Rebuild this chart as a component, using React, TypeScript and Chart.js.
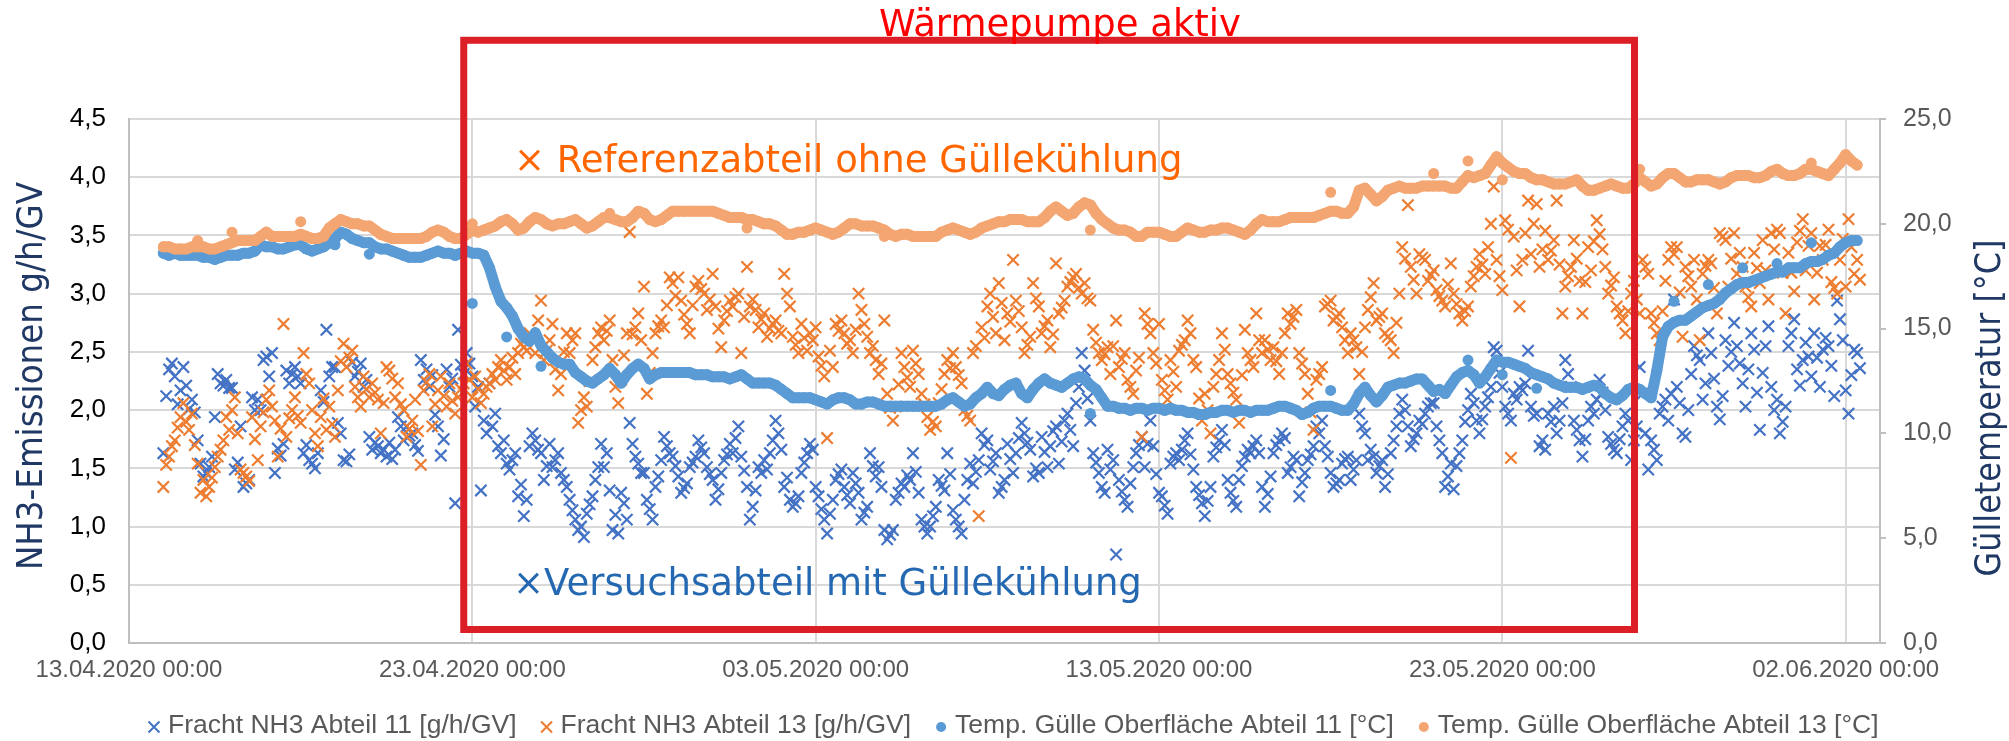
import React, { useEffect, useRef } from 'react';
import { Chart, registerables } from 'chart.js';

Chart.register(...registerables);

// ---- axes (x in days since 13.04.2020 00:00) ----
const xAxisMinDay = 0;
const xAxisMaxDay = 51;
const xTickDays = [0, 10, 20, 30, 40, 50];
const xTickLabels = [
  '13.04.2020 00:00',
  '23.04.2020 00:00',
  '03.05.2020 00:00',
  '13.05.2020 00:00',
  '23.05.2020 00:00',
  '02.06.2020 00:00',
];
const leftAxisMax = 4.5;
const leftAxisStep = 0.5;
const rightAxisMax = 25;
const rightAxisStep = 5;

const seriesLabels = [
  'Fracht NH3 Abteil 11 [g/h/GV]',
  'Fracht NH3 Abteil 13 [g/h/GV]',
  'Temp. Gülle Oberfläche Abteil 11 [°C]',
  'Temp. Gülle Oberfläche Abteil 13 [°C]',
];
const seriesColors = ['#4472C4', '#ED7D31', '#5B9BD5', '#F4A672'];

// ---- NH3 load, one value every 2 h starting 14.04.2020 00:00 ----
const nh3StartDay = 1;
const nh3StepHours = 2;
const nh3Abteil11 = [
  1.63, 2.12, 2.35, 2.40, 2.29, 2.05, 2.17, 2.37, 2.21, 2.01, 2.09, 1.98,
  1.74, 1.54, 1.43, 1.46, 1.51, 1.60, 1.94, 2.31, 2.23, 2.21, 2.26, 2.19,
  2.19, 1.49, 1.55, 1.86, 1.34, 1.37, 1.40, 2.11, 2.00, 2.09, 2.00, 2.43,
  2.46, 2.29, 2.49, 1.46, 1.67, 1.61, 1.71, 2.34, 2.23, 2.31, 2.37, 2.29,
  2.23, 1.63, 1.70, 1.57, 1.54, 1.50, 1.63, 2.17, 2.07, 2.69, 2.29, 2.37,
  2.37, 1.89, 1.80, 1.57, 1.56, 1.62, 2.41, 2.29, 2.33, 2.40, 2.20, 2.26,
  1.77, 1.66, 1.72, 1.69, 1.63, 1.66, 1.60, 1.72, 1.58, 1.66, 1.94, 1.86,
  1.74, 1.86, 1.78, 1.80, 1.70, 1.65, 2.43, 2.26, 2.35, 2.20, 2.30, 1.96,
  1.86, 1.61, 1.75, 2.35, 2.20, 2.27, 1.20, 2.69, 2.39, 2.31, 2.49, 2.40,
  2.29, 2.03, 2.20, 1.31, 1.91, 1.80, 2.23, 1.86, 1.97, 1.69, 1.63, 1.74,
  1.54, 1.49, 1.57, 1.63, 1.26, 1.36, 1.09, 1.23, 1.69, 1.80, 1.74, 1.66,
  1.63, 1.40, 1.52, 1.71, 1.51, 1.57, 1.63, 1.46, 1.40, 1.34, 1.23, 1.14,
  1.06, 0.97, 1.00, 0.91, 1.11, 1.19, 1.26, 1.40, 1.51, 1.71, 1.51, 1.63,
  1.31, 0.97, 1.10, 0.94, 1.29, 1.20, 1.06, 1.89, 1.71, 1.60, 1.54, 1.46,
  1.46, 1.23, 1.15, 1.06, 1.34, 1.43, 1.57, 1.77, 1.69, 1.63, 1.60, 1.52,
  1.43, 1.29, 1.33, 1.37, 1.51, 1.55, 1.60, 1.74, 1.68, 1.63, 1.51, 1.45,
  1.40, 1.23, 1.32, 1.46, 1.57, 1.62, 1.71, 1.63, 1.76, 1.86, 1.60, 1.48,
  1.34, 1.06, 1.17, 1.31, 1.51, 1.46, 1.57, 1.49, 1.63, 1.74, 1.91, 1.80,
  1.66, 1.34, 1.42, 1.23, 1.17, 1.20, 1.26, 1.46, 1.55, 1.63, 1.71, 1.66,
  1.34, 1.26, 1.15, 1.06, 0.94, 1.11, 1.23, 1.40, 1.45, 1.49, 1.34, 1.27,
  1.20, 1.46, 1.37, 1.29, 1.06, 1.12, 1.17, 1.63, 1.52, 1.43, 1.51, 1.34,
  0.97, 0.89, 0.93, 0.97, 1.23, 1.29, 1.37, 1.34, 1.44, 1.40, 1.63, 1.47,
  1.29, 1.06, 1.00, 0.94, 1.00, 1.09, 1.17, 1.40, 1.35, 1.31, 1.63, 1.45,
  1.14, 1.06, 1.00, 0.94, 1.23, 1.40, 1.54, 1.37, 1.47, 1.57, 1.80, 1.70,
  1.74, 1.49, 1.56, 1.63, 1.29, 1.34, 1.40, 1.71, 1.58, 1.46, 1.63, 1.76,
  1.89, 1.80, 1.72, 1.66, 1.43, 1.50, 1.46, 1.77, 1.64, 1.51, 1.69, 1.82,
  1.86, 1.54, 1.73, 1.91, 1.97, 1.83, 1.69, 2.06, 2.20, 2.49, 2.34, 2.10,
  1.91, 1.63, 1.55, 1.46, 1.34, 1.29, 1.66, 1.49, 1.57, 0.76, 1.40, 1.30,
  1.23, 1.17, 1.37, 1.51, 1.63, 1.70, 1.77, 1.51, 1.71, 1.91, 1.69, 1.45,
  1.29, 1.26, 1.18, 1.11, 1.54, 1.60, 1.63, 1.57, 1.66, 1.74, 1.80, 1.62,
  1.49, 1.34, 1.27, 1.20, 1.09, 1.22, 1.34, 1.60, 1.68, 1.74, 1.83, 1.70,
  1.40, 1.29, 1.22, 1.17, 1.40, 1.52, 1.60, 1.66, 1.63, 1.69, 1.74, 1.63,
  1.34, 1.17, 1.28, 1.43, 1.63, 1.70, 1.74, 1.80, 1.76, 1.46, 1.51, 1.60,
  1.57, 1.26, 1.38, 1.46, 1.57, 1.62, 1.69, 1.86, 1.80, 1.91, 1.69, 1.60,
  1.46, 1.34, 1.37, 1.40, 1.54, 1.58, 1.60, 1.40, 1.49, 1.57, 1.97, 1.86,
  1.80, 1.57, 1.66, 1.60, 1.46, 1.52, 1.57, 1.34, 1.45, 1.63, 1.74, 1.86,
  1.97, 2.09, 2.00, 1.86, 1.69, 1.75, 1.80, 1.91, 1.88, 1.97, 2.03, 2.06,
  2.06, 1.86, 1.74, 1.63, 1.34, 1.43, 1.54, 1.32, 1.52, 1.63, 1.74, 1.90,
  2.00, 2.14, 2.06, 1.91, 1.80, 1.92, 2.03, 2.11, 2.20, 2.54, 2.51, 2.32,
  2.20, 2.03, 1.97, 1.91, 2.14, 2.09, 2.20, 2.17, 2.23, 2.51, 2.03, 1.95,
  1.97, 1.69, 1.74, 1.66, 1.97, 1.90, 2.03, 1.80, 1.91, 2.06, 2.43, 2.31,
  2.20, 1.91, 1.83, 1.74, 1.60, 1.75, 1.91, 2.03, 1.97, 2.09, 2.26, 2.15,
  2.00, 1.77, 1.71, 1.66, 1.63, 1.75, 1.86, 1.97, 1.91, 1.57, 1.74, 1.86,
  2.37, 2.14, 1.80, 1.49, 1.74, 1.66, 1.57, 1.97, 2.03, 2.09, 1.91, 2.14,
  2.95, 2.20, 2.06, 1.80, 1.77, 2.00, 2.31, 2.55, 2.47, 2.43, 2.09, 2.23,
  2.66, 2.49, 2.27, 2.03, 1.92, 2.12, 2.60, 2.38, 2.50, 2.75, 2.55, 2.40,
  2.23, 2.03, 2.35, 2.66, 2.52, 2.15, 1.83, 2.32, 2.55, 2.72, 2.20, 2.00,
  2.09, 1.80, 1.90, 2.03, 2.55, 2.66, 2.78, 2.35, 2.21, 2.43, 2.58, 2.46,
  2.29, 2.66, 2.45, 2.20, 2.52, 2.62, 2.55, 2.38, 2.12, 2.94, 2.78, 2.60,
  2.17, 1.97, 2.30, 2.52, 2.49, 2.36,
];
const nh3Abteil13 = [
  1.34, 1.53, 1.60, 1.69, 1.74, 1.85, 1.94, 2.06, 1.90, 1.83, 1.97, 1.70,
  1.54, 1.29, 1.40, 1.26, 1.34, 1.42, 1.51, 1.60, 1.66, 1.74, 1.94, 1.83,
  2.00, 2.11, 1.80, 1.49, 1.46, 1.43, 1.39, 1.94, 1.75, 1.57, 1.86, 1.98,
  2.09, 2.17, 2.03, 1.91, 1.60, 1.84, 2.74, 1.77, 1.93, 2.00, 2.11, 1.95,
  1.89, 2.49, 2.31, 2.23, 2.00, 1.80, 1.69, 1.94, 2.10, 1.83, 2.03, 1.88,
  1.77, 2.17, 2.42, 2.57, 2.37, 2.45, 2.51, 2.20, 2.11, 2.03, 2.29, 2.18,
  2.11, 2.23, 2.15, 2.09, 1.80, 2.06, 2.37, 2.34, 2.27, 2.11, 2.23, 2.05,
  2.00, 1.77, 1.84, 1.91, 2.09, 1.82, 1.53, 2.17, 2.24, 2.31, 1.86, 2.05,
  2.17, 2.29, 2.12, 2.03, 2.23, 2.08, 1.97, 2.11, 2.18, 2.23, 2.40, 2.26,
  2.11, 2.29, 2.18, 2.06, 2.14, 2.20, 2.23, 2.31, 2.26, 2.37, 2.43, 2.34,
  2.26, 2.37, 2.45, 2.31, 2.49, 2.57, 2.54, 2.51, 2.66, 2.60, 2.49, 2.77,
  2.94, 2.43, 2.51, 2.60, 2.74, 2.35, 2.17, 2.31, 2.50, 2.66, 2.49, 2.60,
  2.66, 1.89, 2.00, 2.11, 2.03, 2.25, 2.43, 2.54, 2.66, 2.71, 2.60, 2.68,
  2.77, 2.43, 2.20, 2.06, 2.26, 2.47, 2.66, 3.53, 2.65, 2.71, 2.83, 2.60,
  3.06, 2.14, 2.32, 2.49, 2.66, 2.72, 2.77, 2.71, 2.90, 3.14, 3.09, 2.98,
  3.14, 2.94, 2.82, 2.74, 2.66, 2.90, 3.06, 3.11, 3.04, 3.00, 2.86, 2.95,
  3.17, 2.89, 2.70, 2.54, 2.77, 2.85, 2.94, 2.89, 2.97, 3.00, 2.49, 2.80,
  3.23, 2.89, 2.95, 2.86, 2.71, 2.78, 2.83, 2.63, 2.70, 2.74, 2.77, 2.68,
  2.66, 3.17, 3.00, 2.89, 2.63, 2.56, 2.49, 2.74, 2.62, 2.51, 2.66, 2.60,
  2.71, 2.46, 2.38, 2.29, 1.76, 2.51, 2.37, 2.74, 2.68, 2.77, 2.66, 2.57,
  2.60, 2.49, 2.69, 3.00, 2.86, 2.74, 2.63, 2.49, 2.55, 2.43, 2.31, 2.40,
  2.77, 2.14, 2.02, 1.91, 2.03, 2.22, 2.49, 2.37, 2.28, 2.20, 2.51, 2.40,
  2.31, 2.14, 2.05, 1.94, 1.83, 1.90, 1.86, 2.06, 2.18, 2.31, 2.43, 2.36,
  2.49, 2.37, 2.30, 2.23, 2.00, 1.95, 1.91, 2.49, 2.55, 1.09, 2.71, 2.62,
  2.89, 3.00, 2.80, 2.66, 3.09, 2.92, 2.60, 2.83, 2.76, 3.29, 2.94, 2.85,
  2.71, 2.49, 2.56, 2.63, 3.09, 2.96, 2.89, 2.66, 2.72, 2.77, 2.54, 2.65,
  3.26, 2.83, 2.88, 2.94, 3.06, 3.10, 3.14, 3.17, 3.05, 3.00, 3.09, 2.96,
  2.94, 2.69, 2.58, 2.49, 2.43, 2.48, 2.54, 2.31, 2.55, 2.77, 2.37, 2.44,
  2.49, 2.26, 2.20, 2.14, 2.34, 2.45, 1.77, 2.83, 2.74, 2.66, 2.49, 2.40,
  2.74, 2.26, 2.17, 2.09, 2.43, 2.33, 2.20, 2.51, 2.56, 2.60, 2.77, 2.66,
  2.43, 2.37, 2.10, 1.91, 2.14, 2.00, 1.80, 2.20, 2.31, 2.43, 2.66, 2.52,
  2.31, 2.23, 2.15, 2.09, 1.89, 2.30, 2.69, 2.49, 2.43, 2.37, 2.83, 2.60,
  2.49, 2.60, 2.52, 2.43, 2.54, 2.42, 2.31, 2.49, 2.66, 2.83, 2.74, 2.80,
  2.86, 2.49, 2.40, 2.31, 2.14, 1.98, 1.83, 2.26, 2.31, 2.37, 2.89, 2.91,
  2.94, 2.77, 2.80, 2.83, 2.71, 2.60, 2.49, 2.66, 2.60, 2.54, 2.31, 2.50,
  2.71, 2.86, 2.97, 3.09, 2.77, 2.80, 2.83, 2.66, 2.63, 2.60, 2.49, 2.75,
  3.00, 3.40, 3.30, 3.76, 3.23, 3.12, 3.00, 3.34, 3.31, 3.29, 3.11, 3.16,
  3.20, 3.03, 2.98, 2.94, 2.89, 3.08, 3.26, 3.00, 2.91, 2.83, 2.77, 2.85,
  2.89, 3.06, 3.15, 3.23, 3.34, 3.25, 3.17, 3.40, 3.60, 3.92, 3.29, 3.15,
  3.03, 3.63, 3.55, 1.59, 3.49, 3.20, 2.89, 3.29, 3.52, 3.80, 3.34, 3.60,
  3.77, 3.23, 3.38, 3.54, 3.29, 3.37, 3.46, 3.80, 3.25, 2.83, 3.06, 3.15,
  3.23, 3.46, 3.30, 3.11, 2.83, 3.10, 3.40, 3.20, 3.45, 3.63, 3.51, 3.38,
  3.23, 3.00, 3.07, 3.14, 2.89, 2.83, 2.77, 2.66, 2.85, 3.00, 3.11, 2.95,
  2.83, 3.29, 3.23, 3.17, 2.83, 2.75, 2.66, 2.60, 2.85, 3.11, 3.29, 3.40,
  3.34, 3.40, 3.01, 2.63, 3.23, 3.15, 3.06, 3.29, 2.95, 2.60, 3.17, 3.24,
  3.29, 3.26, 3.05, 2.83, 3.52, 3.49, 3.46, 3.06, 3.30, 3.52, 3.17, 3.35,
  3.23, 3.06, 2.97, 2.89, 3.35, 3.22, 3.09, 3.46, 3.20, 2.95, 3.52, 3.38,
  3.55, 3.52, 3.18, 2.83, 3.35, 3.18, 3.02, 3.44, 3.54, 3.64, 3.20, 3.41,
  3.52, 2.95, 3.18, 3.41, 3.29, 3.42, 3.55, 3.10, 3.05, 3.00, 3.29, 3.47,
  3.06, 3.64, 3.40, 3.17, 3.29, 3.12,
];

// ---- slurry surface temperature, one value every 4 h starting 14.04.2020 00:00 ----
const tempStartDay = 1;
const tempStepHours = 4;
const tempAbteil11 = [
  18.6, 18.5, 18.6, 18.5, 18.5, 18.5,
  18.5, 18.4, 18.4, 18.3, 18.4, 18.5,
  18.5, 18.5, 18.6, 18.6, 18.7, 19.0,
  18.9, 18.9, 18.8, 18.8, 18.9, 19.0,
  19.0, 18.8, 18.7, 18.8, 18.9, 19.1,
  19.3, 19.6, 19.5, 19.3, 19.2, 19.1,
  19.1, 18.9, 18.8, 18.8, 18.7, 18.6,
  18.5, 18.4, 18.4, 18.4, 18.5, 18.6,
  18.7, 18.6, 18.6, 18.5, 18.6, 18.7,
  18.6, 18.6, 18.5, 17.9, 17.0, 16.3,
  16.0, 15.6, 15.0, 14.6, 14.4, 14.8,
  14.2, 13.9, 13.6, 13.4, 13.3, 13.3,
  12.9, 12.7, 12.5, 12.4, 12.6, 12.8,
  13.1, 12.8, 12.4, 12.8, 13.1, 13.3,
  13.1, 12.6, 12.8, 12.9, 12.9, 12.9,
  12.9, 12.9, 12.9, 12.8, 12.8, 12.8,
  12.7, 12.7, 12.7, 12.6, 12.7, 12.8,
  12.6, 12.4, 12.4, 12.4, 12.4, 12.3,
  12.1, 11.9, 11.7, 11.7, 11.7, 11.7,
  11.6, 11.5, 11.4, 11.6, 11.7, 11.7,
  11.6, 11.4, 11.4, 11.5, 11.5, 11.4,
  11.3, 11.3, 11.3, 11.3, 11.3, 11.3,
  11.3, 11.3, 11.3, 11.3, 11.4, 11.6,
  11.7, 11.5, 11.3, 11.4, 11.7, 11.9,
  12.2, 11.9, 11.8, 12.1, 12.3, 12.4,
  11.9, 11.7, 12.1, 12.4, 12.6, 12.4,
  12.3, 12.2, 12.4, 12.6, 12.7, 12.6,
  12.3, 12.1, 11.7, 11.3, 11.3, 11.2,
  11.2, 11.1, 11.2, 11.2, 11.1, 11.2,
  11.2, 11.1, 11.2, 11.1, 11.1, 11.0,
  11.0, 10.9, 10.9, 11.0, 11.0, 11.1,
  11.1, 11.0, 11.1, 11.1, 11.0, 11.1,
  11.1, 11.1, 11.2, 11.3, 11.3, 11.2,
  11.1, 10.9, 11.0, 11.2, 11.3, 11.3,
  11.3, 11.2, 11.1, 11.1, 11.4, 11.9,
  12.2, 11.8, 11.5, 11.8, 12.2, 12.3,
  12.4, 12.4, 12.5, 12.6, 12.6, 12.3,
  12.0, 12.1, 11.9, 12.3, 12.7, 12.9,
  13.0, 12.8, 12.4, 12.7, 13.1, 13.5,
  13.4, 13.4, 13.3, 13.2, 13.1, 12.9,
  12.8, 12.7, 12.6, 12.4, 12.3, 12.2,
  12.2, 12.2, 12.1, 12.2, 12.3, 12.2,
  11.9, 11.7, 11.6, 11.8, 12.1, 12.2,
  12.1, 11.9, 11.7, 13.0, 14.6, 15.1,
  15.3, 15.4, 15.4, 15.6, 15.8, 16.0,
  16.1, 16.2, 16.4, 16.7, 16.9, 17.1,
  17.2, 17.2, 17.3, 17.4, 17.5, 17.6,
  17.7, 17.7, 17.9, 17.9, 17.9, 18.1,
  18.2, 18.2, 18.3, 18.5, 18.6, 18.9,
  19.1, 19.2, 19.2,
];
const tempAbteil13 = [
  18.9, 18.9, 18.8, 18.8, 18.8, 18.9,
  18.9, 18.9, 18.8, 18.8, 18.9, 19.0,
  19.1, 19.2, 19.2, 19.2, 19.2, 19.4,
  19.6, 19.4, 19.4, 19.4, 19.4, 19.4,
  19.5, 19.4, 19.3, 19.3, 19.4, 19.8,
  20.0, 20.2, 20.1, 20.0, 20.0, 19.9,
  19.9, 19.7, 19.5, 19.4, 19.3, 19.3,
  19.3, 19.3, 19.3, 19.3, 19.4, 19.6,
  19.7, 19.6, 19.4, 19.3, 19.3, 19.5,
  19.7, 19.6, 19.7, 19.8, 19.9, 20.1,
  20.2, 20.0, 19.7, 19.8, 20.1, 20.3,
  20.2, 20.0, 19.9, 20.0, 20.0, 20.1,
  20.2, 20.0, 19.8, 19.9, 20.1, 20.3,
  20.3, 20.2, 20.1, 20.1, 20.3, 20.6,
  20.5, 20.2, 20.1, 20.2, 20.4, 20.6,
  20.6, 20.6, 20.6, 20.6, 20.6, 20.6,
  20.6, 20.5, 20.4, 20.3, 20.3, 20.3,
  20.2, 20.2, 20.1, 20.0, 20.0, 19.9,
  19.7, 19.5, 19.5, 19.6, 19.6, 19.7,
  19.8, 19.7, 19.6, 19.5, 19.6, 19.8,
  20.0, 20.0, 19.9, 19.9, 19.9, 19.8,
  19.7, 19.5, 19.4, 19.5, 19.5, 19.4,
  19.4, 19.4, 19.4, 19.4, 19.6, 19.7,
  19.8, 19.7, 19.6, 19.5, 19.6, 19.8,
  19.9, 20.0, 20.1, 20.1, 20.2, 20.2,
  20.2, 20.1, 20.1, 20.1, 20.3, 20.6,
  20.8, 20.6, 20.4, 20.5, 20.8, 21.0,
  20.9, 20.5, 20.2, 20.0, 19.8, 19.7,
  19.7, 19.6, 19.4, 19.4, 19.6, 19.6,
  19.6, 19.5, 19.4, 19.4, 19.6, 19.8,
  19.7, 19.6, 19.6, 19.7, 19.7, 19.8,
  19.8, 19.7, 19.6, 19.5, 19.7, 20.0,
  20.2, 20.1, 20.1, 20.1, 20.2, 20.3,
  20.3, 20.3, 20.3, 20.3, 20.4, 20.5,
  20.6, 20.6, 20.5, 20.5, 20.8, 21.6,
  21.7, 21.4, 21.1, 21.3, 21.6, 21.7,
  21.8, 21.7, 21.7, 21.7, 21.8, 21.8,
  21.8, 21.8, 21.8, 21.7, 21.7, 22.0,
  22.3, 22.2, 22.3, 22.4, 22.8, 23.2,
  22.9, 22.7, 22.5, 22.4, 22.4, 22.2,
  22.1, 22.1, 22.0, 21.9, 21.9, 21.9,
  22.0, 22.1, 21.8, 21.6, 21.6, 21.7,
  21.8, 21.9, 21.8, 21.7, 21.7, 21.9,
  22.2, 22.0, 21.8, 21.9, 22.2, 22.4,
  22.4, 22.2, 22.0, 22.0, 22.1, 22.1,
  22.1, 22.0, 21.9, 22.0, 22.2, 22.3,
  22.3, 22.3, 22.2, 22.2, 22.3, 22.5,
  22.6, 22.4, 22.3, 22.3, 22.4, 22.6,
  22.6, 22.5, 22.4, 22.3, 22.6, 22.9,
  23.3, 23.0, 22.8,
];
// single midnight readings that sit off the smooth temperature curve
const tempAbteil11OutlierDays = [6, 7, 10, 11, 12, 28, 35, 39, 40, 41, 45, 46, 47, 48, 49];
const tempAbteil11OutlierValues = [19.0, 18.55, 16.2, 14.6, 13.2, 10.95, 12.05, 13.5, 12.8, 12.15, 16.3, 17.1, 17.9, 18.1, 19.1];
const tempAbteil13OutlierDays = [2, 3, 5, 10, 14, 18, 22, 28, 35, 38, 39, 40, 44, 49];
const tempAbteil13OutlierValues = [19.2, 19.6, 20.1, 20.0, 20.5, 19.8, 19.4, 19.7, 21.5, 22.4, 23.0, 22.1, 22.6, 22.9];

// ---- annotation (heat pump period) ----
const heatPumpStartDay = 9.75;
const heatPumpEndDay = 43.85;
const heatPumpBoxTop = 5.176; // left-axis units
const heatPumpBoxBottom = 0.116;
const titleText = 'Wärmepumpe aktiv';
const referenceText = '× Referenzabteil ohne Güllekühlung';
const trialText = '×Versuchsabteil mit Güllekühlung';
const leftAxisTitle = 'NH3-Emissionen g/h/GV';
const rightAxisTitle = 'Gülletemperatur [°C]';

const SANS = '"Liberation Sans", Arial, sans-serif';
const VERDANA = '"DejaVu Sans", Verdana, sans-serif';

const toSeries = (values: number[], startDay: number, stepHours: number) =>
  values.map((v, i) => ({ x: startDay + (i * stepHours) / 24, y: v }));
const toPoints = (days: number[], values: number[]) => days.map((d, i) => ({ x: d, y: values[i] }));
const fmt = (v: number) => v.toFixed(1).replace('.', ',');

function drawVerticalTitle(ctx: CanvasRenderingContext2D, text: string, baselineX: number, centerY: number, length: number) {
  const w = ctx.measureText(text).width;
  ctx.save();
  ctx.translate(baselineX, centerY);
  ctx.rotate(-Math.PI / 2);
  ctx.scale(length / w, 1);
  ctx.fillText(text, 0, 0);
  ctx.restore();
}

const overlayPlugin = {
  id: 'overlay',
  afterDatasetsDraw(chart: any) {
    const { ctx } = chart;
    const xs = chart.scales.x;
    const ys = chart.scales.y;
    const l = xs.getPixelForValue(heatPumpStartDay);
    const r = xs.getPixelForValue(heatPumpEndDay);
    const t = ys.getPixelForValue(heatPumpBoxTop);
    const b = ys.getPixelForValue(heatPumpBoxBottom);
    ctx.save();
    ctx.strokeStyle = '#DC1F26';
    ctx.lineWidth = 7;
    ctx.strokeRect(l, t, r - l, b - t);
    ctx.restore();
  },
  afterDraw(chart: any) {
    const { ctx } = chart;
    ctx.save();
    ctx.textBaseline = 'alphabetic';
    ctx.font = `37px ${VERDANA}`;
    ctx.fillStyle = '#FF0000';
    ctx.textAlign = 'center';
    ctx.fillText(titleText, 1060, 36);
    ctx.textAlign = 'left';
    ctx.fillStyle = '#FF6600';
    ctx.fillText(referenceText, 514, 172);
    ctx.fillStyle = '#2468B2';
    ctx.fillText(trialText, 513, 595);

    // axis titles (both read bottom to top)
    ctx.fillStyle = '#203864';
    ctx.font = `36px ${VERDANA}`;
    ctx.textAlign = 'center';
    drawVerticalTitle(ctx, leftAxisTitle, 42, 376, 388);
    drawVerticalTitle(ctx, rightAxisTitle, 2000, 408, 337);

    // legend
    ctx.font = `26.5px ${SANS}`;
    ctx.textAlign = 'left';
    const widths = seriesLabels.map((s) => ctx.measureText(s).width);
    const markerToText = 14;
    const textToMarker = 30;
    const total = 5.5 + widths.reduce((a, w) => a + markerToText + w, 0) + textToMarker * (widths.length - 1);
    let mx = 1013.5 - total / 2 + 5.5;
    const my = 727;
    seriesLabels.forEach((label, i) => {
      const color = seriesColors[i];
      if (i < 2) {
        ctx.strokeStyle = color;
        ctx.lineWidth = 2;
        ctx.beginPath();
        ctx.moveTo(mx - 5.5, my - 5.5);
        ctx.lineTo(mx + 5.5, my + 5.5);
        ctx.moveTo(mx + 5.5, my - 5.5);
        ctx.lineTo(mx - 5.5, my + 5.5);
        ctx.stroke();
      } else {
        ctx.fillStyle = color;
        ctx.beginPath();
        ctx.arc(mx, my, 5, 0, Math.PI * 2);
        ctx.fill();
      }
      ctx.fillStyle = '#595959';
      ctx.fillText(label, mx + markerToText, 733);
      mx = mx + markerToText + widths[i] + textToMarker;
    });
    ctx.restore();
  },
};

export default function App() {
  const canvasRef = useRef<HTMLCanvasElement | null>(null);

  useEffect(() => {
    if (!canvasRef.current) return;
    const gridColor = '#D9D9D9';
    const axisColor = '#BFBFBF';
    const crossSet = (label: string, values: number[], color: string, order: number) => ({
      label,
      data: toSeries(values, nh3StartDay, nh3StepHours),
      yAxisID: 'y',
      showLine: false,
      pointStyle: 'crossRot',
      pointRadius: 8,
      pointHoverRadius: 8,
      pointBorderWidth: 2.2,
      borderColor: color,
      backgroundColor: color,
      order,
    });
    const tempLine = (label: string, values: number[], color: string, order: number) => ({
      label,
      data: toSeries(values, tempStartDay, tempStepHours),
      yAxisID: 'y2',
      showLine: true,
      borderColor: color,
      borderWidth: 11,
      borderCapStyle: 'round',
      borderJoinStyle: 'round',
      pointRadius: 5.5,
      pointBorderWidth: 0,
      pointBackgroundColor: color,
      backgroundColor: color,
      order,
    });
    const tempSingles = (label: string, days: number[], values: number[], color: string, order: number) => ({
      label,
      data: toPoints(days, values),
      yAxisID: 'y2',
      showLine: false,
      pointRadius: 5.5,
      pointBorderWidth: 0,
      pointBackgroundColor: color,
      backgroundColor: color,
      borderColor: color,
      order,
    });
    const chart = new Chart(canvasRef.current, {
      type: 'scatter',
      data: {
        datasets: [
          crossSet(seriesLabels[0], nh3Abteil11, seriesColors[0], 4),
          crossSet(seriesLabels[1], nh3Abteil13, seriesColors[1], 3),
          tempLine(seriesLabels[2], tempAbteil11, seriesColors[2], 2),
          tempSingles(seriesLabels[2] + ' (Einzelwerte)', tempAbteil11OutlierDays, tempAbteil11OutlierValues, seriesColors[2], 2),
          tempLine(seriesLabels[3], tempAbteil13, seriesColors[3], 1),
          tempSingles(seriesLabels[3] + ' (Einzelwerte)', tempAbteil13OutlierDays, tempAbteil13OutlierValues, seriesColors[3], 1),
        ],
      },
      options: {
        animation: false,
        responsive: true,
        maintainAspectRatio: false,
        events: [],
        layout: { padding: { top: 119, left: 0, right: 0, bottom: 0 } },
        plugins: {
          legend: { display: false },
          title: { display: false },
          tooltip: { enabled: false },
        },
        scales: {
          x: {
            type: 'linear',
            position: 'bottom',
            min: xAxisMinDay,
            max: xAxisMaxDay,
            afterBuildTicks: (s: any) => {
              s.ticks = xTickDays.map((v) => ({ value: v }));
            },
            afterFit: (s: any) => {
              s.height = 98;
            },
            ticks: {
              autoSkip: false,
              maxRotation: 0,
              minRotation: 0,
              padding: 13,
              color: '#595959',
              font: { family: SANS, size: 24 },
              callback: (v: any) => {
                const i = xTickDays.indexOf(Number(v));
                return i >= 0 ? xTickLabels[i] : '';
              },
            },
            grid: { color: gridColor, lineWidth: 2, drawTicks: false },
            border: { color: axisColor, width: 2 },
          },
          y: {
            type: 'linear',
            position: 'left',
            min: 0,
            max: leftAxisMax,
            afterFit: (s: any) => {
              s.width = 129;
            },
            ticks: {
              stepSize: leftAxisStep,
              padding: 23,
              color: '#000000',
              font: { family: SANS, size: 26 },
              callback: (v: any) => fmt(Number(v)),
            },
            grid: { color: gridColor, lineWidth: 2, drawTicks: false },
            border: { color: axisColor, width: 2 },
          },
          y2: {
            type: 'linear',
            position: 'right',
            min: 0,
            max: rightAxisMax,
            afterFit: (s: any) => {
              s.width = 129;
            },
            ticks: {
              stepSize: rightAxisStep,
              padding: 17,
              color: '#595959',
              font: { family: SANS, size: 25 },
              callback: (v: any) => fmt(Number(v)),
            },
            grid: { drawOnChartArea: false, drawTicks: true, tickLength: 6, color: axisColor, lineWidth: 2 },
            border: { color: axisColor, width: 2 },
          },
        },
      },
      plugins: [overlayPlugin],
    } as any);
    return () => chart.destroy();
  }, []);

  return (
    <div style={{ position: 'fixed', left: 0, top: 0, width: '2009px', height: '741px', background: '#FFFFFF' }}>
      <canvas ref={canvasRef} style={{ display: 'block' }} />
    </div>
  );
}
